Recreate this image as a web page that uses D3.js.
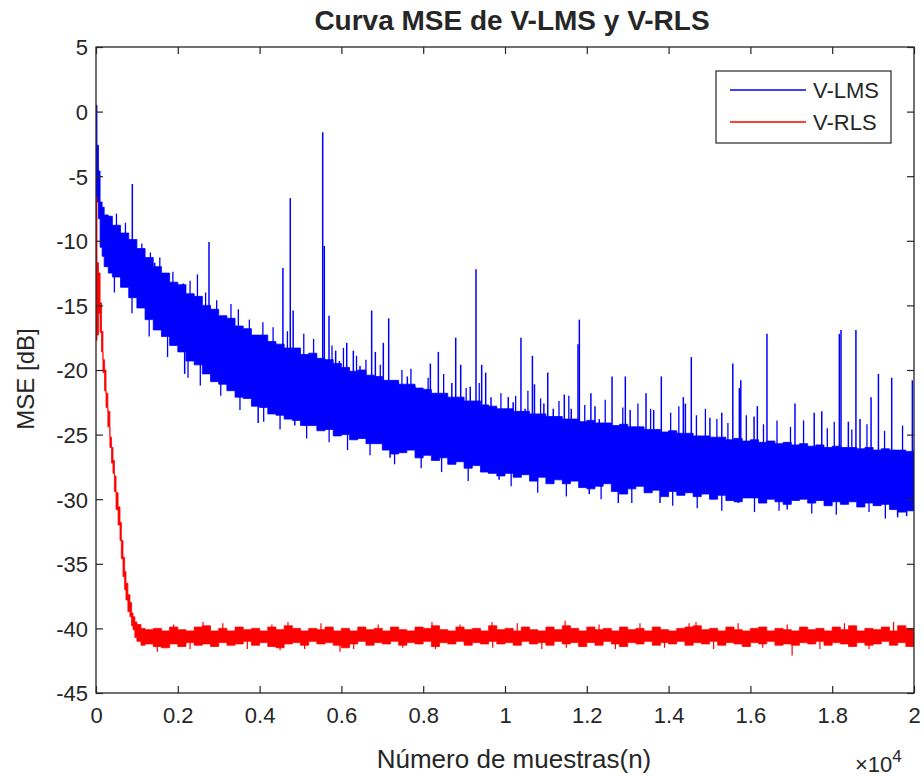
<!DOCTYPE html>
<html>
<head>
<meta charset="utf-8">
<script src="https://cdn.jsdelivr.net/npm/d3@7"></script>
<style>
  body { margin: 0; background: #fff; }
  text { font-family: "Liberation Sans", Arial, sans-serif; fill: #262626; }
</style>
</head>
<body>
<svg width="924" height="776"></svg>
<script>
// values: [n, upper edge, lower edge] of the noisy trace, in dB
const blueBins = [
  [0, 0.5, -6.8], [25, -2.6, -7.0], [60, -4.6, -8.3], [100, -7.0, -10.5], [150, -7.4, -11.2],
  [200, -8.0, -12.0], [300, -8.1, -12.5],
  [400, -8.8, -12.8], [600, -9.4, -13.6], [800, -9.9, -14.4], [1000, -10.6, -15.2], [1200, -11.3, -16.1],
  [1400, -12.0, -16.9], [1600, -12.5, -17.4], [1800, -13.2, -18.1], [2000, -13.4, -18.6], [2200, -14.1, -19.3],
  [2400, -14.3, -19.6], [2600, -15.0, -20.3], [2800, -15.3, -20.9], [3000, -15.8, -21.1], [3200, -16.0, -21.6],
  [3400, -16.6, -22.1], [3600, -16.8, -22.2], [3800, -17.3, -22.8], [4000, -17.3, -22.9], [4200, -17.8, -23.4],
  [4400, -18.0, -23.5], [4600, -18.3, -23.8], [4800, -18.3, -23.9], [5000, -18.8, -24.3], [5200, -18.7, -24.3],
  [5400, -19.1, -24.7], [5600, -19.2, -24.6], [5800, -19.5, -25.1], [6000, -19.8, -25.0], [6200, -20.1, -25.4],
  [6400, -20.0, -25.3], [6600, -20.4, -25.7], [6800, -20.5, -25.7], [7000, -20.8, -26.2], [7200, -20.8, -26.5],
  [7400, -21.1, -26.4], [7600, -21.1, -26.2], [7800, -21.4, -26.8], [8000, -21.5, -26.6], [8200, -21.8, -27.0],
  [8400, -21.8, -26.8], [8600, -22.1, -27.3], [8800, -22.1, -27.1], [9000, -22.4, -27.6], [9200, -22.4, -27.4],
  [9400, -22.7, -27.9], [9600, -22.8, -28.0], [9800, -23.0, -28.2], [10000, -23.0, -28.0], [10200, -23.2, -28.3],
  [10400, -23.2, -28.1], [10600, -23.4, -28.6], [10800, -23.4, -28.3], [11000, -23.6, -28.8], [11200, -23.6, -28.5],
  [11400, -23.8, -28.8], [11600, -23.8, -28.6], [11800, -24.0, -29.1], [12000, -23.9, -29.2], [12200, -24.1, -29.0],
  [12400, -24.1, -28.8], [12600, -24.3, -29.4], [12800, -24.2, -29.6], [13000, -24.4, -29.2], [13200, -24.4, -29.0],
  [13400, -24.6, -29.5], [13600, -24.6, -29.3], [13800, -24.8, -29.8], [14000, -24.7, -29.4], [14200, -24.9, -29.7],
  [14400, -24.9, -29.5], [14600, -25.1, -29.8], [14800, -25.1, -29.6], [15000, -25.2, -30.0], [15200, -25.2, -29.7],
  [15400, -25.4, -30.1], [15600, -25.3, -30.2], [15800, -25.5, -29.9], [16000, -25.4, -29.9], [16200, -25.6, -30.3],
  [16400, -25.5, -30.0], [16600, -25.7, -30.2], [16800, -25.6, -30.4], [17000, -25.8, -30.1], [17200, -25.7, -30.0],
  [17400, -25.9, -30.3], [17600, -25.8, -30.1], [17800, -26.0, -30.5], [18000, -25.9, -30.2], [18200, -26.0, -30.4],
  [18400, -26.0, -30.2], [18600, -26.1, -30.6], [18800, -26.0, -30.3], [19000, -26.2, -30.5], [19200, -26.1, -30.4],
  [19400, -26.2, -30.8], [19600, -26.2, -31.0], [19800, -26.3, -30.9], [20000, -26.2, -30.6]
];

// isolated excursions of V-LMS: [n, dB]
const blueSpikes = [
  [318, -8.1], [643, -9.6], [888, -5.6], [1051, -12.0], [1230, -12.2], [1435, -11.7], [1680, -13.8],
  [2005, -13.9], [2135, -13.3], [2168, -20.3], [2763, -10.1], [2860, -16.1], [3130, -16.0], [3620, -17.9],
  [3960, -17.4], [3965, -24.1], [4190, -18.9], [4570, -12.1], [4750, -6.7], [4820, -15.4], [4860, -24.3],
  [5543, -1.6], [5582, -10.4], [5697, -15.8], [5860, -18.5], [5950, -19.3], [6130, -17.9], [6292, -18.5],
  [6455, -19.7], [6740, -15.4], [6830, -18.6], [7025, -17.9], [7156, -16.0], [7190, -26.8], [7390, -21.0],
  [7612, -20.5], [7800, -21.3], [8030, -21.7], [8175, -19.5], [8370, -18.6], [8700, -21.0], [8795, -17.5],
  [8917, -19.6], [9150, -21.3], [9291, -12.2], [9430, -19.6], [9528, -20.2], [9600, -28.0], [9658, -22.1],
  [9855, -28.5], [10080, -22.1], [10200, -22.5], [10390, -17.5], [10490, -23.0], [10670, -18.9], [10720, -21.1],
  [10950, -22.6], [11045, -20.2], [11180, -23.0], [11450, -21.9], [11620, -23.0], [11785, -18.0], [11818, -16.1],
  [12060, -29.6], [12100, -21.8], [12200, -22.8], [12305, -23.8], [12617, -20.5], [12770, -30.3], [12942, -20.5],
  [13060, -23.1], [13448, -21.8], [13635, -23.1], [13790, -30.3], [13822, -20.5], [14360, -22.1], [14410, -22.6],
  [14555, -19.0], [15010, -23.7], [15300, -23.3], [15570, -19.5], [15730, -21.4], [15765, -20.8], [15700, -30.3],
  [16090, -23.6], [16170, -22.8], [16405, -17.2], [16900, -30.8], [17090, -22.6], [17560, -23.3], [17745, -23.2],
  [18175, -17.2], [18215, -16.9], [18395, -24.0], [18580, -16.9], [18680, -23.8], [18950, -22.1], [19130, -20.3],
  [19455, -20.6], [19600, -31.4], [19820, -31.3], [19960, -20.8]
];

// smaller jags along the edges of the V-LMS band: [n, dB]
const blueJags = [
  [500, -7.9], [720, -8.6], [1120, -10.2], [1330, -10.9], [1560, -11.3], [1880, -12.4], [2300, -13.1],
  [2480, -12.6], [2680, -14.0], [2950, -14.6], [3300, -14.9], [3480, -15.3], [3750, -16.1], [4080, -16.3],
  [4330, -16.7], [4680, -17.0], [5080, -17.2], [5320, -17.6], [5770, -18.1], [6050, -18.3], [6370, -18.9],
  [6600, -19.2], [6950, -19.6], [7480, -20.0], [7700, -19.9], [8120, -20.6], [8500, -20.3], [9050, -21.4],
  [9370, -21.0], [9900, -21.8], [10260, -22.0], [10560, -21.6], [10870, -22.2], [11320, -22.4], [11560, -22.0],
  [11950, -22.7], [12450, -22.3], [12880, -22.9], [13250, -22.6], [13560, -23.0], [14050, -23.3], [14250, -22.8],
  [14680, -23.5], [14900, -23.0], [15180, -23.8], [15450, -24.1], [15900, -23.5], [16320, -24.2], [16650, -23.9],
  [16980, -24.4], [17300, -23.9], [17880, -24.5], [18050, -24.0], [18480, -24.6], [18850, -24.2], [19280, -24.7],
  [19720, -24.3],
  [450, -14.0], [880, -15.6], [1300, -17.4], [1750, -19.0], [2250, -20.6], [2550, -21.2], [3050, -22.0],
  [3520, -23.1], [4100, -24.0], [4500, -24.6], [5150, -25.3], [5700, -25.6], [6150, -26.2], [6700, -26.6],
  [7300, -27.3], [7950, -27.6], [8450, -27.9], [9100, -28.6], [10150, -29.0], [10800, -29.5], [11500, -29.8],
  [12350, -30.0], [13100, -30.3], [14100, -30.5], [14700, -30.7], [15300, -30.9], [16100, -31.0], [16700, -30.9],
  [17500, -31.1], [18100, -31.2], [18900, -31.0], [19300, -31.5]
];

const redBins = [
  [0, -6.6, -17.7], [25, -11.7, -17.3], [60, -12.5, -15.6], [100, -14.8, -17.1], [135, -17.0, -18.6],
  [170, -19.2, -20.2], [210, -20.0, -21.6], [245, -21.8, -22.9], [290, -23.2, -24.4], [340, -25.2, -26.0],
  [380, -26.0, -27.2], [415, -27.0, -28.0], [450, -28.2, -29.4], [490, -29.5, -30.8], [540, -30.6, -32.0],
  [587, -31.8, -33.2], [620, -33.2, -34.6], [660, -34.5, -36.0], [700, -35.6, -37.0], [733, -36.5, -37.8],
  [780, -37.4, -38.7], [830, -38.0, -39.1], [870, -38.8, -39.8], [905, -39.1, -40.1], [950, -39.5, -40.7],
  [1000, -39.7, -41.0], [1100, -40.0, -41.3],
  [1200, -40.1, -41.2], [1400, -40.0, -41.4], [1600, -40.2, -41.5], [1800, -39.9, -41.2], [2000, -40.1, -41.4],
  [2200, -40.2, -41.1], [2400, -39.9, -41.3], [2600, -39.8, -41.2], [2800, -40.2, -41.4], [3000, -40.0, -41.1],
  [3200, -40.2, -41.3], [3400, -39.9, -41.2], [3600, -40.1, -41.0], [3800, -40.0, -41.3], [4000, -40.2, -41.1],
  [4200, -39.9, -41.4], [4400, -40.1, -41.5], [4600, -39.8, -41.2], [4800, -40.0, -41.1], [5000, -40.2, -41.3],
  [5200, -40.0, -41.0], [5400, -40.1, -41.2], [5600, -39.9, -41.1], [5800, -40.2, -41.3], [6000, -40.0, -41.5],
  [6200, -40.2, -41.2], [6400, -39.9, -41.0], [6600, -40.1, -41.3], [6800, -40.0, -41.1], [7000, -40.2, -41.2],
  [7200, -39.9, -41.0], [7400, -40.1, -41.3], [7600, -40.2, -41.1], [7800, -39.9, -41.2], [8000, -40.0, -41.0],
  [8200, -39.8, -41.4], [8400, -40.1, -41.1], [8600, -40.2, -41.2], [8800, -39.9, -41.0], [9000, -40.1, -41.3],
  [9200, -40.0, -41.1], [9400, -40.2, -41.2], [9600, -39.8, -41.0], [9800, -40.1, -41.2], [10000, -40.0, -41.1],
  [10200, -40.2, -41.3], [10400, -39.9, -41.0], [10600, -40.1, -41.2], [10800, -40.2, -41.1], [11000, -39.9, -41.3],
  [11200, -40.1, -41.0], [11400, -39.8, -41.2], [11600, -40.0, -41.1], [11800, -40.2, -41.4], [12000, -39.9, -41.1],
  [12200, -40.1, -41.3], [12400, -40.0, -41.0], [12600, -40.2, -41.2], [12800, -39.9, -41.4], [13000, -40.1, -41.1],
  [13200, -40.0, -41.2], [13400, -40.2, -41.0], [13600, -39.9, -41.3], [13800, -40.1, -41.1], [14000, -40.2, -41.2],
  [14200, -40.0, -41.0], [14400, -39.9, -41.3], [14600, -39.8, -41.1], [14800, -40.1, -41.2], [15000, -40.0, -41.0],
  [15200, -40.2, -41.3], [15400, -39.9, -41.1], [15600, -40.1, -41.2], [15800, -40.2, -41.4], [16000, -40.0, -41.1],
  [16200, -39.9, -41.2], [16400, -40.2, -41.0], [16600, -40.0, -41.3], [16800, -40.1, -41.2], [17000, -40.2, -41.3],
  [17200, -39.9, -41.1], [17400, -40.1, -41.2], [17600, -40.0, -41.0], [17800, -40.2, -41.3], [18000, -39.9, -41.1],
  [18200, -40.1, -41.2], [18400, -39.8, -41.4], [18600, -40.2, -41.1], [18800, -40.0, -41.3], [19000, -40.1, -41.2],
  [19200, -39.9, -41.0], [19400, -40.2, -41.3], [19600, -39.8, -41.1], [19800, -40.0, -41.4], [20000, -40.2, -41.2]
];

// isolated excursions of V-RLS: [n, dB]
const redSpikes = [
  [1500, -41.8], [1900, -39.7], [2300, -41.6], [2616, -39.5], [3100, -39.6], [3700, -41.6], [4300, -39.7],
  [4500, -41.7], [4694, -39.5], [5100, -41.6], [5500, -39.6], [5965, -41.8], [6300, -41.6], [6900, -39.7],
  [7500, -41.5], [8215, -39.5], [8300, -41.6], [8900, -39.7], [9682, -39.5], [9700, -41.5], [10300, -39.6],
  [10900, -41.6], [11470, -39.4], [11500, -41.5], [12300, -39.7], [12700, -41.6], [13300, -39.6], [13900, -41.5],
  [14500, -39.6], [14670, -39.5], [15100, -41.6], [15700, -39.6], [16300, -41.5], [16900, -39.7], [17020, -42.1],
  [17700, -41.6], [18300, -39.6], [18900, -41.6], [19500, -39.5]
];

const seriesNames = ["V-LMS", "V-RLS"];
const seriesColors = ["#0000ff", "#ff0000"];
const xTicks = [0, 0.2, 0.4, 0.6, 0.8, 1, 1.2, 1.4, 1.6, 1.8, 2];   // x 10^4
const yTicks = [5, 0, -5, -10, -15, -20, -25, -30, -35, -40, -45];

const svg = d3.select("svg");
const margin = { top: 47, right: 10, bottom: 83, left: 96 };
const width = 924 - margin.left - margin.right,
  height = 776 - margin.top - margin.bottom;

svg.append("rect").attr("width", 924).attr("height", 776).attr("fill", "#fff");

const g = svg.append("g").attr("transform", `translate(${margin.left},${margin.top})`);

const x = d3.scaleLinear().domain([0, 20000]).range([0, width]);
const y = d3.scaleLinear().domain([-45, 5]).range([height, 0]);

g.append("clipPath").attr("id", "plotclip")
  .append("rect").attr("width", width).attr("height", height);

const plot = g.append("g").attr("clip-path", "url(#plotclip)");

const band = d3.area()
  .x(d => x(d[0]))
  .y0(d => y(d[2]))
  .y1(d => y(d[1]))
  .curve(d3.curveStepAfter);

function binAt(bins, n) {
  let b = bins[0];
  for (const d of bins) { if (d[0] <= n) b = d; }
  return b;
}

function drawSpikes(cls, list, bins, color, w) {
  plot.selectAll("." + cls)
    .data(list)
    .enter()
    .append("line")
    .attr("class", cls)
    .attr("x1", d => x(d[0]))
    .attr("x2", d => x(d[0]))
    .attr("y1", d => y(d[1]))
    .attr("y2", d => { const b = binAt(bins, d[0]); return y((b[1] + b[2]) / 2); })
    .attr("stroke", color)
    .attr("stroke-width", w);
}

// V-LMS
plot.append("path")
  .datum(blueBins)
  .attr("d", band)
  .attr("fill", seriesColors[0])
  .attr("stroke", seriesColors[0])
  .attr("stroke-width", 0.8);
drawSpikes("spike", blueSpikes, blueBins, seriesColors[0], 1.5);
drawSpikes("jag", blueJags, blueBins, seriesColors[0], 1.3);

// V-RLS
plot.append("path")
  .datum(redBins)
  .attr("d", band)
  .attr("fill", seriesColors[1])
  .attr("stroke", seriesColors[1])
  .attr("stroke-width", 0.8);
drawSpikes("rspike", redSpikes, redBins, seriesColors[1], 1.2);

// axes, MATLAB style: ticks inward on all four sides
const axisColor = "#262626";
const fmtX = d => String(+(d / 1e4).toFixed(1));

const xAxis = g.append("g")
  .attr("transform", `translate(0,${height})`)
  .call(d3.axisBottom(x).tickValues(xTicks.map(v => v * 1e4)).tickFormat(fmtX)
    .tickSizeInner(-7).tickSizeOuter(0).tickPadding(14));
const xTop = g.append("g")
  .call(d3.axisTop(x).tickValues(xTicks.map(v => v * 1e4)).tickFormat("")
    .tickSizeInner(-7).tickSizeOuter(0));
const yAxis = g.append("g")
  .call(d3.axisLeft(y).tickValues(yTicks).tickFormat(d => String(d))
    .tickSizeInner(-7).tickSizeOuter(0).tickPadding(8));
const yRight = g.append("g")
  .attr("transform", `translate(${width},0)`)
  .call(d3.axisRight(y).tickValues(yTicks).tickFormat("")
    .tickSizeInner(-7).tickSizeOuter(0));

[xAxis, xTop, yAxis, yRight].forEach(a => {
  a.select(".domain").remove();
  a.selectAll("line").attr("stroke", axisColor).attr("stroke-width", 1.2);
  a.selectAll("text").style("font-size", "22px").attr("fill", axisColor);
});
yAxis.selectAll("text").attr("dy", "0.36em");

g.append("rect")
  .attr("width", width).attr("height", height)
  .attr("fill", "none").attr("stroke", axisColor).attr("stroke-width", 1.3);

// title & labels
svg.append("text")
  .attr("x", margin.left + width / 2 + 7).attr("y", 30)
  .attr("text-anchor", "middle")
  .style("font-size", "28px").style("font-weight", "bold")
  .attr("fill", "#000")
  .text("Curva MSE de V-LMS y V-RLS");

svg.append("text")
  .attr("x", margin.left + width / 2 + 9).attr("y", 768)
  .attr("text-anchor", "middle")
  .style("font-size", "26px")
  .text("Número de muestras(n)");

svg.append("text")
  .attr("transform", `translate(34,${margin.top + height / 2 + 9}) rotate(-90)`)
  .attr("text-anchor", "middle")
  .style("font-size", "24px")
  .text("MSE [dB]");

const expo = svg.append("text").attr("x", 855).attr("y", 772).style("font-size", "22px");
expo.append("tspan").text("\u00d710");
expo.append("tspan").attr("dy", -10).style("font-size", "17px").text("4");

// legend
const lg = svg.append("g").attr("transform", "translate(716,71)");
lg.append("rect").attr("width", 175).attr("height", 72)
  .attr("fill", "#fff").attr("stroke", axisColor).attr("stroke-width", 1.2);
seriesNames.forEach((name, i) => {
  const yy = 19 + i * 32;
  lg.append("line").attr("x1", 14).attr("x2", 90).attr("y1", yy).attr("y2", yy)
    .attr("stroke", seriesColors[i]).attr("stroke-width", 1.5);
  lg.append("text").attr("x", 97).attr("y", yy + 8).style("font-size", "22px").text(name);
});
</script>
</body>
</html>
